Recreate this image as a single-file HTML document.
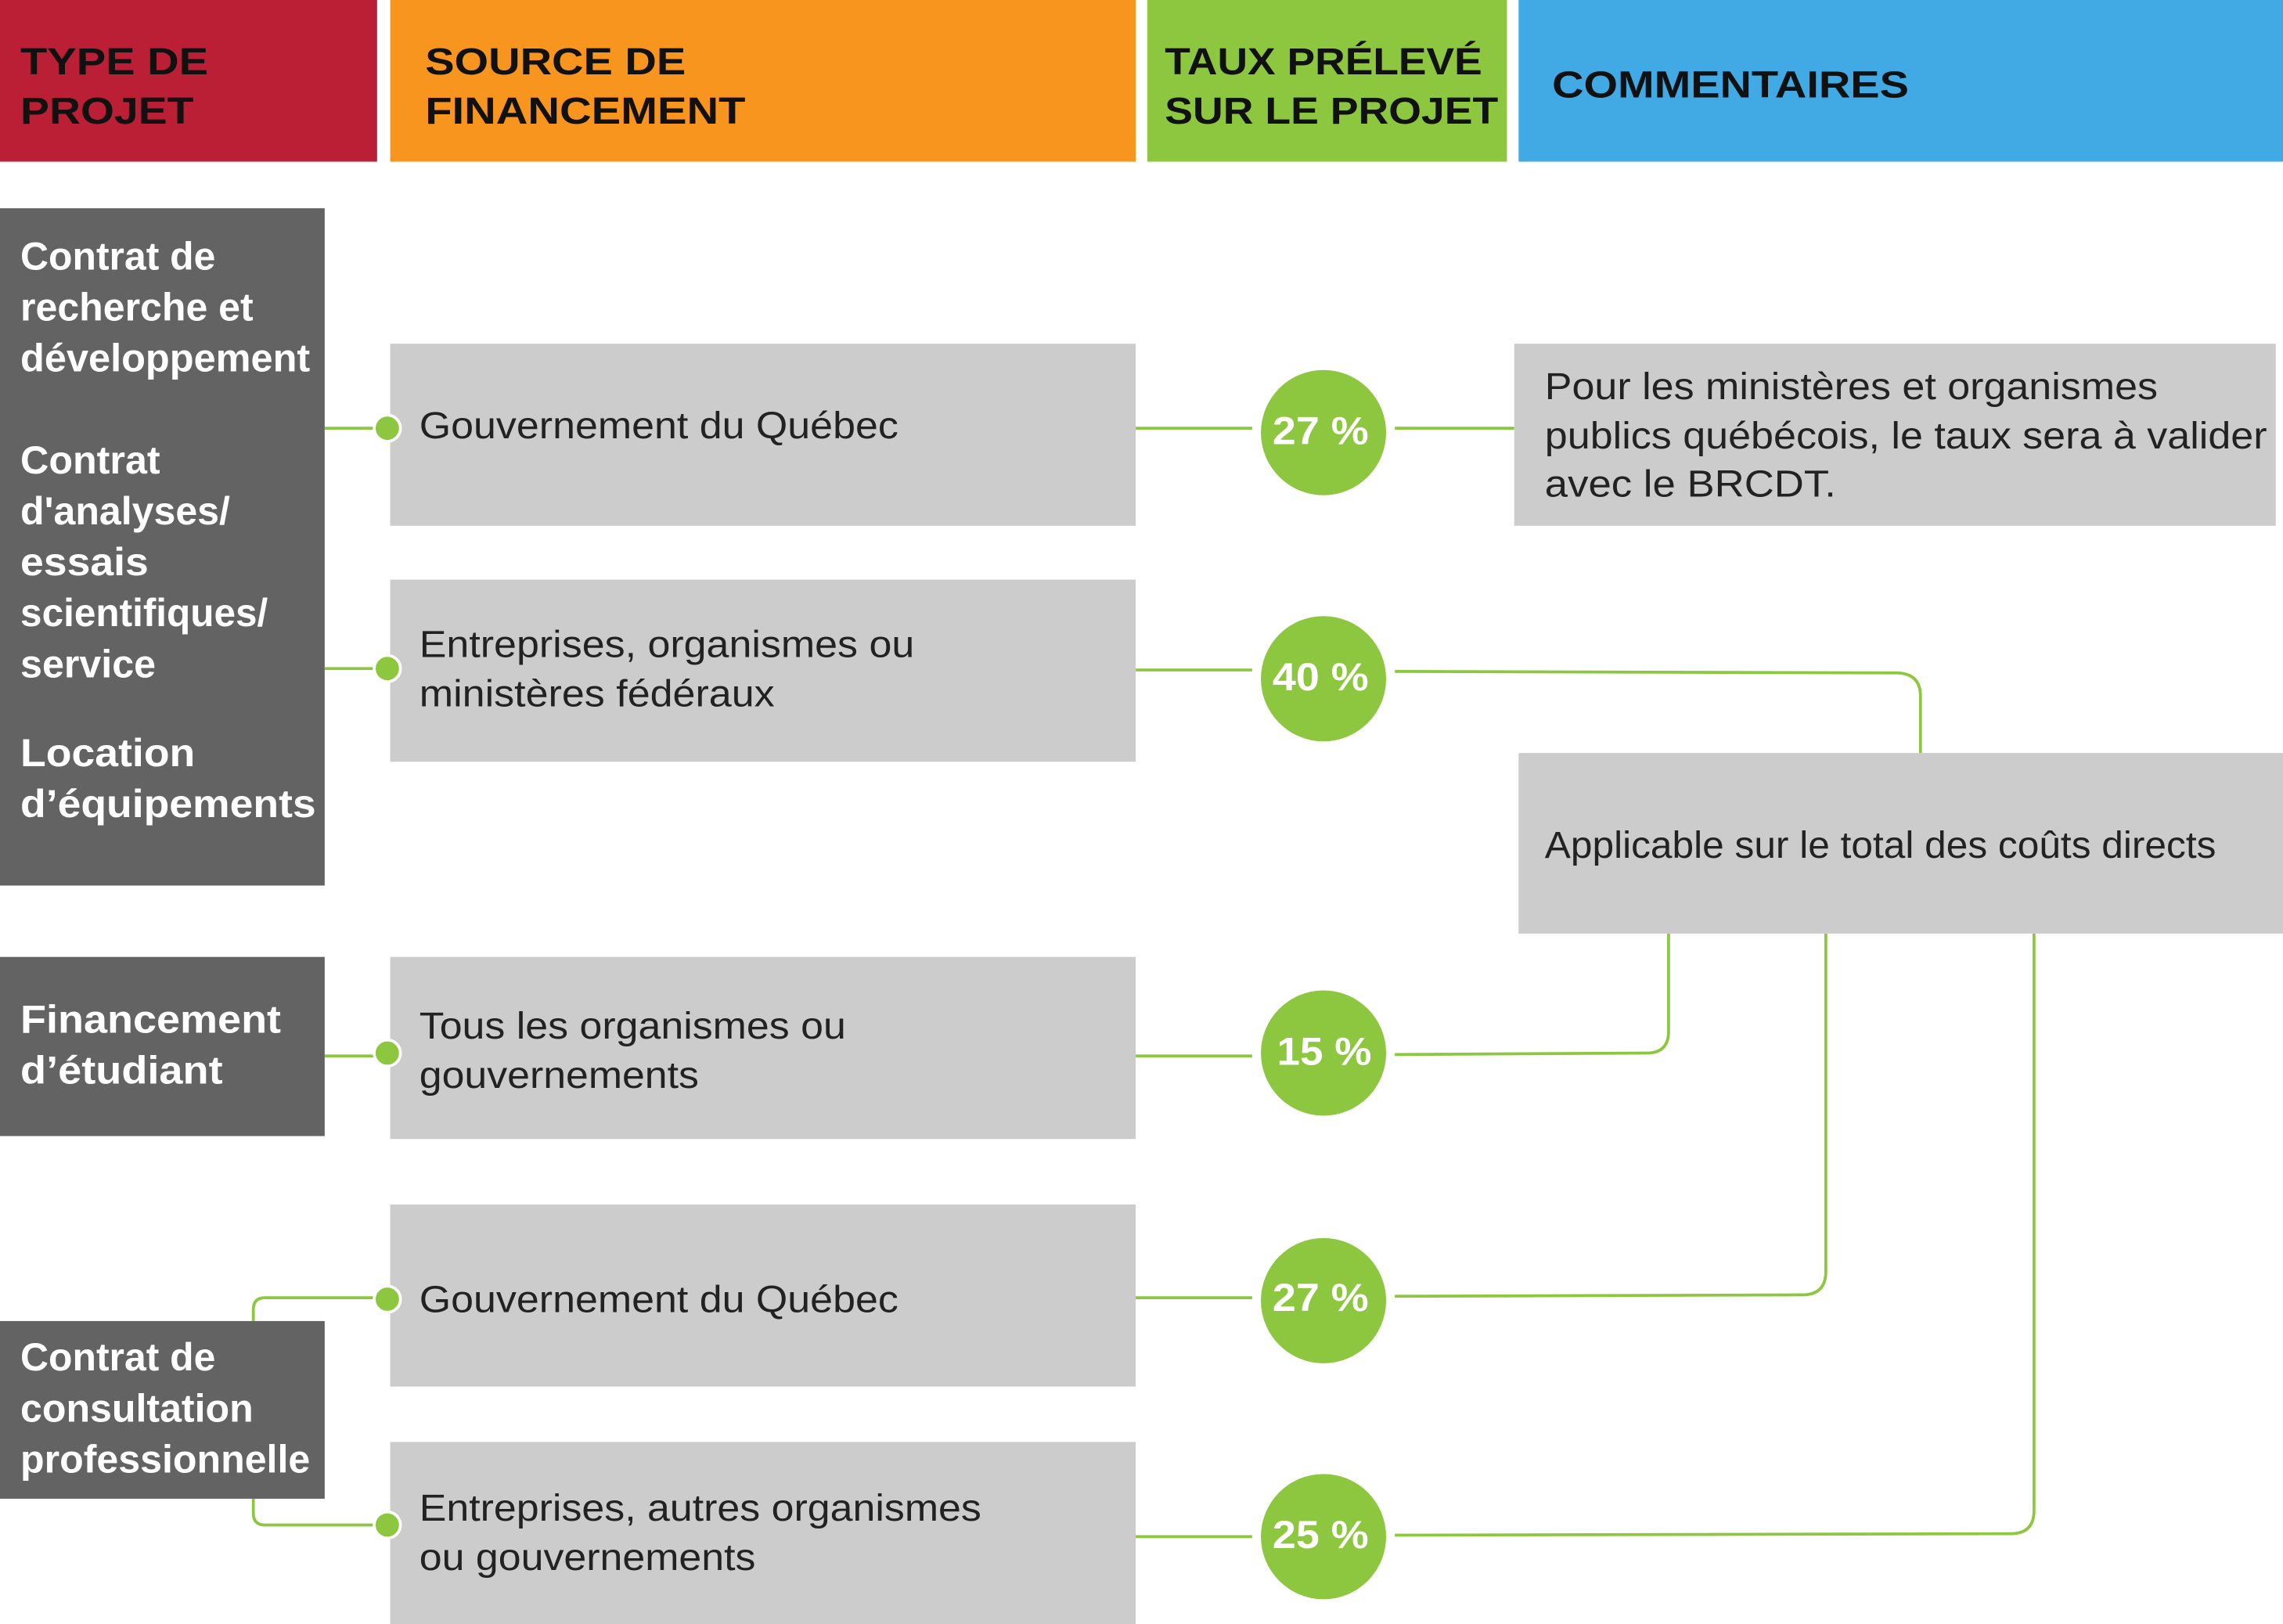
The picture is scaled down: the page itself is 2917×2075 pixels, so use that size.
<!DOCTYPE html>
<html><head><meta charset="utf-8"><style>html,body{margin:0;padding:0;background:#fff}svg{display:block}</style></head>
<body>
<svg width="2917" height="2075" viewBox="0 0 1568 1115" preserveAspectRatio="none" xmlns="http://www.w3.org/2000/svg" font-family="Liberation Sans, Arial, sans-serif">
<rect x="0" y="0" width="259" height="111" fill="#bb1f35"/>
<rect x="268" y="0" width="512" height="111" fill="#f7951f"/>
<rect x="788" y="0" width="247" height="111" fill="#8dc63f"/>
<rect x="1043" y="0" width="525" height="111" fill="#41a9e3"/>
<g font-weight="bold" font-size="26" fill="#111" lengthAdjust="spacingAndGlyphs">
<text x="14" y="51" textLength="129" lengthAdjust="spacingAndGlyphs">TYPE DE</text><text x="14" y="85" textLength="119" lengthAdjust="spacingAndGlyphs">PROJET</text>
<text x="292" y="51" textLength="179" lengthAdjust="spacingAndGlyphs">SOURCE DE</text><text x="292" y="85" textLength="220" lengthAdjust="spacingAndGlyphs">FINANCEMENT</text>
<text x="800" y="51" textLength="218" lengthAdjust="spacingAndGlyphs">TAUX PRÉLEVÉ</text><text x="800" y="85" textLength="229" lengthAdjust="spacingAndGlyphs">SUR LE PROJET</text>
<text x="1066" y="67" textLength="245" lengthAdjust="spacingAndGlyphs">COMMENTAIRES</text>
</g>
<g fill="none" stroke="#8dc63f" stroke-width="2">
<path d="M223 294H266M223 459H266M223 725H266"/>
<path d="M174 907V899Q174 891 182 891H266"/>
<path d="M174 1029V1039Q174 1047 182 1047H266"/>
<path d="M780 294H860M780 460H860M780 725H860M780 891H860M780 1055H860"/>
<path d="M958 294H1040"/>
<path d="M958 461L1302 462Q1319 462 1319 478V517"/>
<path d="M1146 641V708Q1146 723 1131 723L958 724"/>
<path d="M1254 641V873Q1254 889 1238 889L958 890"/>
<path d="M1397 641V1037Q1397 1053 1381 1053L958 1054"/>
</g>
<g fill="#636363">
<rect x="0" y="143" width="223" height="465"/>
<rect x="0" y="657" width="223" height="123"/>
<rect x="0" y="907" width="223" height="122"/>
</g>
<g fill="#fff" font-weight="bold" font-size="27">
<text x="14" y="185" textLength="134" lengthAdjust="spacingAndGlyphs">Contrat de</text><text x="14" y="220" textLength="160" lengthAdjust="spacingAndGlyphs">recherche et</text><text x="14" y="255" textLength="199" lengthAdjust="spacingAndGlyphs">développement</text>
<text x="14" y="325" textLength="96" lengthAdjust="spacingAndGlyphs">Contrat</text><text x="14" y="360" textLength="144" lengthAdjust="spacingAndGlyphs">d'analyses/</text><text x="14" y="395" textLength="88" lengthAdjust="spacingAndGlyphs">essais</text><text x="14" y="430" textLength="170" lengthAdjust="spacingAndGlyphs">scientifiques/</text><text x="14" y="465" textLength="93" lengthAdjust="spacingAndGlyphs">service</text>
<text x="14" y="526" textLength="120" lengthAdjust="spacingAndGlyphs">Location</text><text x="14" y="561" textLength="203" lengthAdjust="spacingAndGlyphs">d’équipements</text>
<text x="14" y="709" textLength="179" lengthAdjust="spacingAndGlyphs">Financement</text><text x="14" y="744" textLength="139" lengthAdjust="spacingAndGlyphs">d’étudiant</text>
<text x="14" y="941" textLength="134" lengthAdjust="spacingAndGlyphs">Contrat de</text><text x="14" y="976" textLength="160" lengthAdjust="spacingAndGlyphs">consultation</text><text x="14" y="1011" textLength="199" lengthAdjust="spacingAndGlyphs">professionnelle</text>
</g>
<g fill="#cccccc">
<rect x="268" y="236" width="512" height="125"/>
<rect x="268" y="398" width="512" height="125"/>
<rect x="268" y="657" width="512" height="125"/>
<rect x="268" y="827" width="512" height="125"/>
<rect x="268" y="990" width="512" height="125"/>
<rect x="1040" y="236" width="523" height="125"/>
<rect x="1043" y="517" width="525" height="124"/>
</g>
<g fill="#222" font-size="26">
<text x="288" y="301" textLength="329" lengthAdjust="spacingAndGlyphs">Gouvernement du Québec</text>
<text x="288" y="451" textLength="340" lengthAdjust="spacingAndGlyphs">Entreprises, organismes ou</text><text x="288" y="485" textLength="244" lengthAdjust="spacingAndGlyphs">ministères fédéraux</text>
<text x="288" y="713" textLength="293" lengthAdjust="spacingAndGlyphs">Tous les organismes ou</text><text x="288" y="747" textLength="192" lengthAdjust="spacingAndGlyphs">gouvernements</text>
<text x="288" y="901" textLength="329" lengthAdjust="spacingAndGlyphs">Gouvernement du Québec</text>
<text x="288" y="1044" textLength="386" lengthAdjust="spacingAndGlyphs">Entreprises, autres organismes</text><text x="288" y="1078" textLength="231" lengthAdjust="spacingAndGlyphs">ou gouvernements</text>
<text x="1061" y="274" textLength="421" lengthAdjust="spacingAndGlyphs">Pour les ministères et organismes</text><text x="1061" y="308" textLength="496" lengthAdjust="spacingAndGlyphs">publics québécois, le taux sera à valider</text><text x="1061" y="341" textLength="200" lengthAdjust="spacingAndGlyphs">avec le BRCDT.</text>
<text x="1061" y="589" textLength="461" lengthAdjust="spacingAndGlyphs">Applicable sur le total des coûts directs</text>
</g>
<g fill="#8dc63f" stroke="#fff" stroke-width="2">
<circle cx="266" cy="294" r="9"/><circle cx="266" cy="459" r="9"/><circle cx="266" cy="723" r="9"/><circle cx="266" cy="892" r="9"/><circle cx="266" cy="1047" r="9"/>
</g>
<g fill="#8dc63f">
<circle cx="909" cy="297" r="43"/><circle cx="909" cy="466" r="43"/><circle cx="909" cy="723" r="43"/><circle cx="909" cy="893" r="43"/><circle cx="909" cy="1055" r="43"/>
</g>
<g fill="#fff" font-weight="bold" font-size="27">
<text x="874" y="305" textLength="66" lengthAdjust="spacingAndGlyphs">27 %</text><text x="874" y="474" textLength="66" lengthAdjust="spacingAndGlyphs">40 %</text><text x="877" y="731" textLength="65" lengthAdjust="spacingAndGlyphs">15 %</text><text x="874" y="900" textLength="66" lengthAdjust="spacingAndGlyphs">27 %</text><text x="874" y="1063" textLength="66" lengthAdjust="spacingAndGlyphs">25 %</text>
</g>
</svg>
</body></html>
